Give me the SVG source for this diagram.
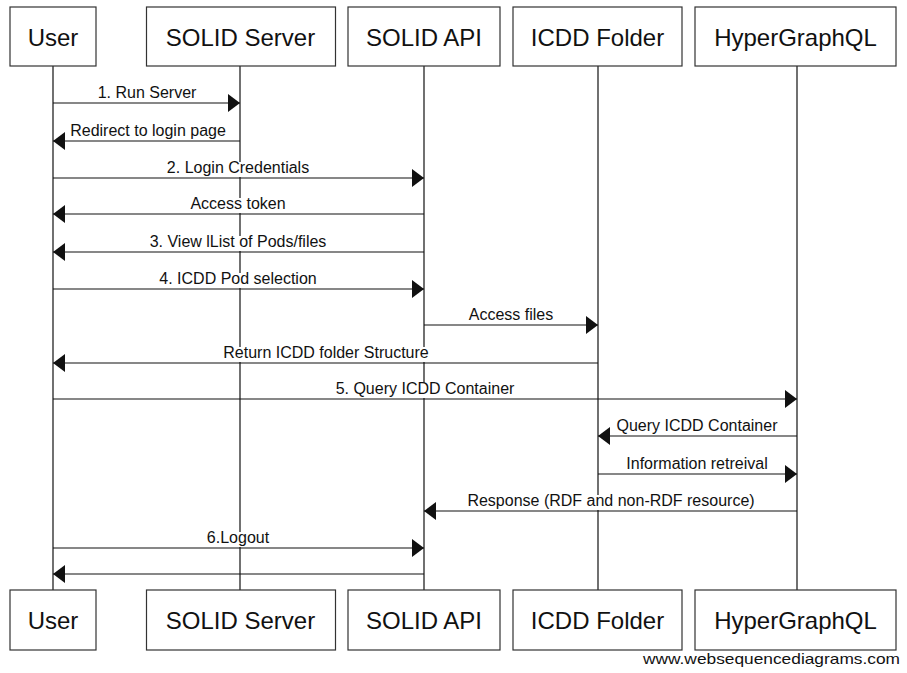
<svg xmlns="http://www.w3.org/2000/svg" width="907" height="673" viewBox="0 0 907 673">
<style>
.box{fill:#fff;stroke:#333;stroke-width:1.2}
.bt{font-family:"Liberation Sans",Arial,sans-serif;font-size:24px;fill:#111;text-anchor:middle}
.life{stroke:#111;stroke-width:1.2;fill:none}
.msg{stroke:#111;stroke-width:1.2;fill:none;marker-end:url(#ah)}
.lbl{font-family:"Liberation Sans",Arial,sans-serif;font-size:16px;fill:#111;text-anchor:middle}
.bg{fill:#fff}
.wm{font-family:"Liberation Sans",Arial,sans-serif;font-size:15px;fill:#111;text-anchor:end}
</style>
<defs>
<marker id="ah" markerUnits="userSpaceOnUse" markerWidth="13" markerHeight="18" refX="12" refY="9" orient="auto" viewBox="0 0 13 18">
<path d="M0,0 L12,9 L0,18 z" fill="#111"/>
</marker>
</defs>
<g id="lifelines">
<line class="life" x1="53" y1="66" x2="53" y2="590"/>
<line class="life" x1="240" y1="66" x2="240" y2="590"/>
<line class="life" x1="424" y1="66" x2="424" y2="590"/>
<line class="life" x1="598" y1="66" x2="598" y2="590"/>
<line class="life" x1="797" y1="66" x2="797" y2="590"/>
</g>
<g id="connectors">
<g id="m1"><rect class="bg" x="96" y="87" width="102" height="15"/><line class="msg" x1="53" y1="103" x2="240" y2="103"/><text class="lbl" x="147" y="98">1. Run Server</text></g>
<g id="m2"><rect class="bg" x="70" y="125" width="156" height="15"/><line class="msg" x1="240" y1="141" x2="53" y2="141"/><text class="lbl" x="148" y="136">Redirect to login page</text></g>
<g id="m3"><rect class="bg" x="166" y="162" width="144" height="15"/><line class="msg" x1="53" y1="178" x2="424" y2="178"/><text class="lbl" x="238" y="173">2. Login Credentials</text></g>
<g id="m4"><rect class="bg" x="188" y="198" width="100" height="15"/><line class="msg" x1="424" y1="214" x2="53" y2="214"/><text class="lbl" x="238" y="209">Access token</text></g>
<g id="m5"><rect class="bg" x="146" y="236" width="184" height="15"/><line class="msg" x1="424" y1="252" x2="53" y2="252"/><text class="lbl" x="238" y="247">3. View lList of Pods/files</text></g>
<g id="m6"><rect class="bg" x="156" y="273" width="164" height="15"/><line class="msg" x1="53" y1="289" x2="424" y2="289"/><text class="lbl" x="238" y="284">4. ICDD Pod selection</text></g>
<g id="m7"><rect class="bg" x="464" y="309" width="92" height="15"/><line class="msg" x1="424" y1="325" x2="598" y2="325"/><text class="lbl" x="511" y="320">Access files</text></g>
<g id="m8"><rect class="bg" x="220" y="347" width="212" height="15"/><line class="msg" x1="598" y1="363" x2="53" y2="363"/><text class="lbl" x="326" y="358">Return ICDD folder Structure</text></g>
<g id="m9"><rect class="bg" x="331" y="383" width="188" height="15"/><line class="msg" x1="53" y1="399" x2="797" y2="399"/><text class="lbl" x="425" y="394">5. Query ICDD Container</text></g>
<g id="m10"><rect class="bg" x="613" y="420" width="168" height="15"/><line class="msg" x1="797" y1="436" x2="598" y2="436"/><text class="lbl" x="697" y="431">Query ICDD Container</text></g>
<g id="m11"><rect class="bg" x="626" y="458" width="144" height="15"/><line class="msg" x1="598" y1="474" x2="797" y2="474"/><text class="lbl" x="697" y="469">Information retreival</text></g>
<g id="m12"><rect class="bg" x="466" y="495" width="292" height="15"/><line class="msg" x1="797" y1="511" x2="424" y2="511"/><text class="lbl" x="611" y="506">Response (RDF and non-RDF resource)</text></g>
<g id="m13"><rect class="bg" x="206" y="532" width="66" height="15"/><line class="msg" x1="53" y1="548" x2="424" y2="548"/><text class="lbl" x="238" y="543">6.Logout</text></g>
<g id="m14"><line class="msg" x1="424" y1="574" x2="53" y2="574"/></g>
</g>
<g id="user-top"><rect class="box" x="10" y="7" width="86" height="59"/><text class="bt" x="53" y="46">User</text></g>
<g id="server-top"><rect class="box" x="146.5" y="7" width="189" height="59"/><text class="bt" x="240.5" y="46">SOLID Server</text></g>
<g id="api-top"><rect class="box" x="348" y="7" width="152" height="59"/><text class="bt" x="424" y="46">SOLID API</text></g>
<g id="icdd-top"><rect class="box" x="513" y="7" width="169" height="59"/><text class="bt" x="597.5" y="46">ICDD Folder</text></g>
<g id="hgql-top"><rect class="box" x="695" y="7" width="201" height="59"/><text class="bt" x="795.5" y="46">HyperGraphQL</text></g>
<g id="user-bottom"><rect class="box" x="10" y="590" width="86" height="60"/><text class="bt" x="53" y="629">User</text></g>
<g id="server-bottom"><rect class="box" x="146.5" y="590" width="189" height="60"/><text class="bt" x="240.5" y="629">SOLID Server</text></g>
<g id="api-bottom"><rect class="box" x="348" y="590" width="152" height="60"/><text class="bt" x="424" y="629">SOLID API</text></g>
<g id="icdd-bottom"><rect class="box" x="513" y="590" width="169" height="60"/><text class="bt" x="597.5" y="629">ICDD Folder</text></g>
<g id="hgql-bottom"><rect class="box" x="695" y="590" width="201" height="60"/><text class="bt" x="795.5" y="629">HyperGraphQL</text></g>
<text class="wm" x="900" y="664" textLength="257" lengthAdjust="spacingAndGlyphs">www.websequencediagrams.com</text>
</svg>
